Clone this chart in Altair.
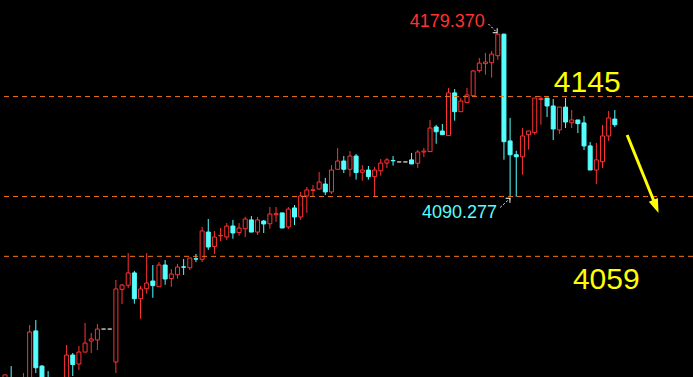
import altair as alt
import pandas as pd

# ---- candle data (price) ----
opens = [3986.8, 3991.7, 3981.4, 3984.6, 3991.1, 4017.8, 3998.7, 3989.0, 3983.5, 3975.9,
         3988.4, 4004.7, 3999.8, 4006.3, 4012.3, 4012.9, 4018.8, 4018.8, 4000.9, 4040.4,
         4042.6, 4049.3, 4035.3, 4040.7, 4044.9, 4041.8, 4053.6, 4046.2, 4048.3, 4052.6,
         4052.1, 4057.0, 4056.7, 4071.5, 4063.6, 4069.4, 4068.8, 4074.8, 4071.2, 4073.3,
         4078.1, 4071.5, 4077.5, 4076.0, 4080.9, 4081.9, 4074.3, 4084.6, 4079.7, 4091.1,
         4094.1, 4094.9, 4097.6, 4093.3, 4105.6, 4110.1, 4105.6, 4112.8, 4104.0, 4105.2,
         4101.6, 4104.8, 4109.0, 4110.4, 4109.6, 4109.6, 4110.7, 4108.9, 4115.0, 4115.2,
         4128.6, 4126.4, 4123.9, 4147.1, 4136.9, 4141.8, 4145.6, 4159.2, 4163.0, 4163.5,
         4167.3, 4179.0, 4121.0, 4113.5, 4112.4, 4124.4, 4125.5, 4143.5, 4144.3, 4140.0,
         4127.0, 4139.4, 4130.9, 4132.4, 4130.8, 4118.3, 4105.2, 4109.7, 4123.7, 4132.9]
highs = [3993.9, 3998.7, 3990.1, 3994.9, 4021.0, 4023.7, 3999.3, 3996.0, 3985.7, 3988.4,
         4010.2, 4005.8, 4009.6, 4022.1, 4016.7, 4021.6, 4018.8, 4018.8, 4045.5, 4043.3,
         4060.1, 4050.4, 4042.2, 4060.1, 4053.6, 4055.2, 4056.3, 4051.4, 4054.2, 4056.9,
         4057.6, 4059.6, 4074.3, 4078.6, 4072.1, 4073.7, 4076.4, 4078.1, 4076.4, 4079.8,
         4080.2, 4079.7, 4078.1, 4085.1, 4085.1, 4081.9, 4085.1, 4086.2, 4093.3, 4096.0,
         4097.1, 4104.1, 4100.9, 4107.9, 4117.2, 4112.8, 4115.5, 4113.9, 4107.9, 4107.4,
         4106.9, 4111.2, 4111.7, 4112.8, 4109.6, 4109.6, 4114.5, 4116.1, 4117.2, 4132.4,
         4129.7, 4130.2, 4149.8, 4149.2, 4144.3, 4149.8, 4159.5, 4166.1, 4168.8, 4169.9,
         4179.37, 4179.37, 4133.5, 4115.7, 4128.0, 4126.4, 4144.3, 4145.4, 4144.3, 4143.8,
         4139.4, 4144.3, 4137.8, 4132.4, 4134.6, 4120.4, 4119.9, 4129.7, 4137.3, 4137.8]
lows = [3984.6, 3982.4, 3979.2, 3981.4, 3989.0, 3994.9, 3985.7, 3980.3, 3972.7, 3973.8,
        3986.8, 3993.3, 3996.6, 4006.3, 4005.8, 4007.4, 4018.8, 4018.8, 3994.9, 4032.4,
        4041.1, 4032.6, 4024.4, 4038.0, 4035.8, 4041.8, 4042.9, 4041.7, 4046.2, 4048.2,
        4050.9, 4055.2, 4055.2, 4061.8, 4059.6, 4066.6, 4067.2, 4067.9, 4069.5, 4068.8,
        4071.5, 4069.9, 4071.0, 4073.3, 4077.0, 4073.7, 4073.2, 4075.3, 4078.1, 4081.9,
        4091.1, 4094.4, 4091.6, 4092.2, 4105.6, 4103.6, 4101.6, 4100.0, 4099.4, 4100.0,
        4091.1, 4102.1, 4106.3, 4107.6, 4109.6, 4109.6, 4108.5, 4106.3, 4112.3, 4115.2,
        4119.5, 4124.4, 4123.9, 4132.0, 4136.9, 4141.8, 4145.6, 4158.1, 4157.0, 4155.4,
        4165.1, 4110.8, 4090.277, 4090.7, 4102.7, 4116.3, 4124.4, 4129.8, 4134.0, 4121.5,
        4124.8, 4128.0, 4128.0, 4125.3, 4116.1, 4105.2, 4097.6, 4106.3, 4121.0, 4128.6]
closes = [3993.9, 3984.6, 3987.9, 3992.2, 4017.2, 3997.8, 3988.4, 3983.0, 3974.8, 3985.7,
          4004.7, 3999.5, 4006.3, 4011.2, 4013.4, 4018.8, 4018.8, 4018.8, 4040.6, 4042.7,
          4049.3, 4035.3, 4040.6, 4043.8, 4042.4, 4053.6, 4046.0, 4048.7, 4052.5, 4052.4,
          4057.4, 4056.8, 4072.1, 4063.4, 4068.8, 4069.7, 4074.8, 4071.0, 4073.7, 4078.6,
          4071.5, 4078.1, 4075.9, 4081.3, 4081.5, 4073.7, 4084.0, 4079.7, 4091.1, 4094.4,
          4094.5, 4098.7, 4093.3, 4105.2, 4110.1, 4105.6, 4112.8, 4103.8, 4105.2, 4101.6,
          4105.2, 4109.0, 4110.7, 4110.2, 4109.6, 4109.6, 4108.5, 4115.0, 4115.5, 4128.0,
          4126.0, 4124.4, 4147.1, 4136.9, 4142.7, 4146.0, 4159.0, 4163.3, 4163.9, 4168.2,
          4179.0, 4120.6, 4113.5, 4112.4, 4123.7, 4126.4, 4144.3, 4144.1, 4140.0, 4127.5,
          4139.4, 4131.3, 4132.4, 4130.4, 4118.3, 4105.2, 4110.7, 4123.7, 4133.5, 4129.8]

# ---- reference levels (dashed lines) ----
levels = [4145.1, 4090.8, 4058.3]

# ---- annotation texts ----
label_texts = ["4179.370", "4090.277"]
label_x = [65.7, 67.7]
label_y = [4182.7, 4078.9]
label_colors = ["#FF3232", "#54FFFF"]

level_texts = ["4145", "4059"]
level_x = [89.1, 92.2]
level_y = [4147.6, 4040.6]

# ---- arrows ----
white_arrow_x = [78.5, 80.4]
white_arrow_y = [4184.5, 4084.9]
white_arrow_x2 = [79.9, 82.0]
white_arrow_y2 = [4179.8, 4089.8]
white_arrow_angle = [135, 48]

yellow_x = [101.0]
yellow_y = [4124.2]
yellow_x2 = [105.5]
yellow_y2 = [4087.0]
yellow_tip_x = [106.1]
yellow_tip_y = [4081.9]

RED = "#FF3232"
CYAN = "#54FFFF"
GREY = "#C0C0C0"
ORANGE = "#F07418"
YELLOW = "#FFFF00"

df = pd.DataFrame({"i": list(range(len(opens))), "open": opens, "high": highs,
                   "low": lows, "close": closes})
df["kind"] = [
    "flat" if h == l else ("up" if c >= o else "down")
    for o, h, l, c in zip(opens, highs, lows, closes)
]

xs = alt.Scale(domain=[0, 110.88], nice=False, zero=False)
ys = alt.Scale(domain=[3992.76, 4197.57], nice=False, zero=False)
kinds = ["up", "down", "flat"]
stroke_scale = alt.Scale(domain=kinds, range=[RED, CYAN, GREY])
fill_scale = alt.Scale(domain=kinds, range=["#000000", CYAN, GREY])

base = alt.Chart(df)
wicks = base.mark_rule(strokeWidth=1, clip=True).encode(
    x=alt.X("i:Q", scale=xs, axis=None),
    y=alt.Y("low:Q", scale=ys, axis=None),
    y2="high:Q",
    color=alt.Color("kind:N", scale=stroke_scale, legend=None),
)
bodies = base.mark_bar(size=4, strokeWidth=1, clip=True).encode(
    x=alt.X("i:Q", scale=xs, axis=None),
    y=alt.Y("open:Q", scale=ys, axis=None),
    y2="close:Q",
    fill=alt.Fill("kind:N", scale=fill_scale, legend=None),
    stroke=alt.Stroke("kind:N", scale=stroke_scale, legend=None),
)

lines = alt.Chart(pd.DataFrame({"level": levels})).mark_rule(
    strokeDash=[5, 4], color=ORANGE, strokeWidth=1
).encode(y=alt.Y("level:Q", scale=ys, axis=None))

lab_df = pd.DataFrame({"x": label_x, "y": label_y, "t": label_texts, "c": label_colors})
labels = alt.Chart(lab_df).mark_text(
    align="left", baseline="alphabetic", font="Liberation Sans", fontSize=18
).encode(
    x=alt.X("x:Q", scale=xs, axis=None),
    y=alt.Y("y:Q", scale=ys, axis=None),
    text="t:N",
    color=alt.Color("c:N", scale=None),
)

lev_df = pd.DataFrame({"x": level_x, "y": level_y, "t": level_texts})
level_labels = alt.Chart(lev_df).mark_text(
    align="left", baseline="alphabetic", font="Liberation Sans", fontSize=30, color=YELLOW
).encode(
    x=alt.X("x:Q", scale=xs, axis=None),
    y=alt.Y("y:Q", scale=ys, axis=None),
    text="t:N",
)

wa_df = pd.DataFrame({"x": white_arrow_x, "y": white_arrow_y, "x2": white_arrow_x2,
                      "y2": white_arrow_y2, "a": white_arrow_angle})
wa_lines = alt.Chart(wa_df).mark_rule(color="#FFFFFF", strokeWidth=1, strokeDash=[2, 2]).encode(
    x=alt.X("x:Q", scale=xs, axis=None), y=alt.Y("y:Q", scale=ys, axis=None),
    x2="x2:Q", y2="y2:Q",
)
wa_heads = alt.Chart(wa_df).mark_point(
    shape="M -1 1 L 0 0 L 1 1", filled=False, color="#FFFFFF", strokeWidth=1, size=40, opacity=1
).encode(
    x=alt.X("x2:Q", scale=xs, axis=None), y=alt.Y("y2:Q", scale=ys, axis=None),
    angle=alt.Angle("a:Q", scale=None),
)

ya_df = pd.DataFrame({"x": yellow_x, "y": yellow_y, "x2": yellow_x2, "y2": yellow_y2,
                      "tx": yellow_tip_x, "ty": yellow_tip_y})
ya_line = alt.Chart(ya_df).mark_rule(color=YELLOW, strokeWidth=3).encode(
    x=alt.X("x:Q", scale=xs, axis=None), y=alt.Y("y:Q", scale=ys, axis=None),
    x2="x2:Q", y2="y2:Q",
)
ya_head = alt.Chart(ya_df).mark_point(
    shape="M 0 0 L -0.7 -2 L 0.7 -2 Z", filled=True, color=YELLOW, size=196, opacity=1, angle=338
).encode(
    x=alt.X("tx:Q", scale=xs, axis=None), y=alt.Y("ty:Q", scale=ys, axis=None),
)

chart = alt.layer(
    wicks, bodies, lines, labels, level_labels, wa_lines, wa_heads, ya_line, ya_head
).properties(
    width=693, height=377, autosize=alt.AutoSizeParams(type="none"), padding=0,
    background="#000000",
).configure_view(stroke=None).resolve_scale(color="independent")

chart.save("out.html", embed_options={"renderer": "svg", "actions": False})
